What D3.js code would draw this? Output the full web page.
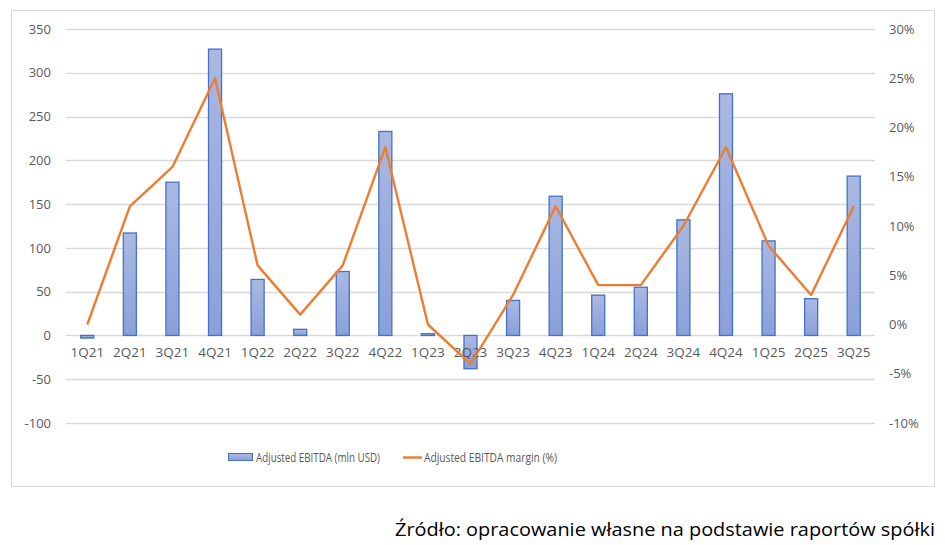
<!DOCTYPE html>
<html>
<head>
<meta charset="utf-8">
<script src="https://cdn.jsdelivr.net/npm/d3@7"></script>
<style>
  html, body { margin: 0; padding: 0; background: #fff; }
  svg { display: block; }
</style>
</head>
<body>
<svg id="chart" width="945" height="545"></svg>
<script>
const categories = ["1Q21","2Q21","3Q21","4Q21","1Q22","2Q22","3Q22","4Q22","1Q23","2Q23","3Q23","4Q23","1Q24","2Q24","3Q24","4Q24","1Q25","2Q25","3Q25"];
const ebitda = [-3, 117, 175, 327, 64, 7, 73, 233, 2, -38, 40, 159, 46, 55, 132, 276, 108, 42, 182];
const margin = [0, 12, 16, 25, 6, 1, 6, 18, 0, -4, 3, 12, 4, 4, 10, 18, 8, 3, 12];
const leftTicks = [-100, -50, 0, 50, 100, 150, 200, 250, 300, 350];
const rightTicks = [-10, -5, 0, 5, 10, 15, 20, 25, 30];
const legendLabels = ["Adjusted EBITDA (mln USD)", "Adjusted EBITDA margin (%)"];
const sourceText = "Źródło: opracowanie własne na podstawie raportów spółki";

const svg = d3.select("#chart");
const font = "'Open Sans', 'Liberation Sans', sans-serif";
const textGray = "#595959";

// chart frame
svg.append("rect").attr("x", 11.5).attr("y", 10.5).attr("width", 923).attr("height", 476)
  .attr("fill", "#fff").attr("stroke", "#d9d9d9").attr("stroke-width", 1);

const plot = { left: 66, right: 875, top: 29, bottom: 423 };

const x = d3.scaleBand().domain(categories).range([plot.left, plot.right]).paddingInner(0.67).paddingOuter(0.335);
const yL = d3.scaleLinear().domain([-100, 350]).range([plot.bottom, plot.top]);
const yR = d3.scaleLinear().domain([-10, 30]).range([plot.bottom, plot.top]);

// gradient for bars
const defs = svg.append("defs");
const grad = defs.append("linearGradient").attr("id", "barGrad").attr("x1", 0).attr("y1", 0).attr("x2", 0).attr("y2", 1);
grad.append("stop").attr("offset", "0%").attr("stop-color", "#aab8e2");
grad.append("stop").attr("offset", "100%").attr("stop-color", "#8aa0db");

// gridlines
svg.append("g").selectAll("line").data(leftTicks).join("line")
  .attr("x1", plot.left).attr("x2", plot.right)
  .attr("y1", d => Math.round(yL(d)) + 0.5).attr("y2", d => Math.round(yL(d)) + 0.5)
  .attr("stroke", "#d9d9d9").attr("stroke-width", 1.3);

const fmtNum = d => String(d).replace("\u2212", "-");

// left axis
const leftAxis = d3.axisLeft(yL).tickValues(leftTicks).tickSize(0).tickPadding(0).tickFormat(d => fmtNum(d));
const gL = svg.append("g").attr("transform", `translate(51,0)`).call(leftAxis);
gL.select(".domain").remove();
gL.selectAll("text").attr("fill", textGray).style("font-family", font).style("font-size", "13px");

// right axis
const rightAxis = d3.axisRight(yR).tickValues(rightTicks).tickSize(0).tickPadding(0).tickFormat(d => fmtNum(d) + "%");
const gR = svg.append("g").attr("transform", `translate(889,0)`).call(rightAxis);
gR.select(".domain").remove();
gR.selectAll("text").attr("fill", textGray).style("font-family", font).style("font-size", "13px");

// bars
svg.append("g").selectAll("rect").data(categories).join("rect")
  .attr("x", (d) => x(d) + 0.5)
  .attr("width", x.bandwidth() - 1)
  .attr("y", (d, i) => Math.min(yL(ebitda[i]), yL(0)))
  .attr("height", (d, i) => Math.abs(yL(ebitda[i]) - yL(0)))
  .attr("fill", "url(#barGrad)").attr("stroke", "#4472c4").attr("stroke-width", 1.3);

// category labels (below zero line)
const bottomAxis = d3.axisBottom(x).tickSize(0).tickPadding(0);
const gB = svg.append("g").attr("transform", `translate(0,${yL(0) + 12})`).call(bottomAxis);
gB.select(".domain").remove();
gB.selectAll("text").attr("fill", textGray).style("font-family", font).style("font-size", "13.5px");

// line
const line = d3.line().x((d, i) => x(categories[i]) + x.bandwidth() / 2).y(d => yR(d));
svg.append("path").datum(margin).attr("d", line)
  .attr("fill", "none").attr("stroke", "#ed7d31").attr("stroke-width", 2.4).attr("stroke-linejoin", "round");

// legend
const lg = svg.append("g");
lg.append("rect").attr("x", 228.5).attr("y", 453.5).attr("width", 24).attr("height", 7)
  .attr("fill", "url(#barGrad)").attr("stroke", "#4472c4").attr("stroke-width", 1);
lg.append("text").attr("x", 256).attr("y", 462).text(legendLabels[0])
  .attr("textLength", 124).attr("lengthAdjust", "spacingAndGlyphs")
  .attr("fill", textGray).style("font-family", font).style("font-size", "12px");
lg.append("line").attr("x1", 403).attr("x2", 422).attr("y1", 457.5).attr("y2", 457.5)
  .attr("stroke", "#ed7d31").attr("stroke-width", 2.4);
lg.append("text").attr("x", 424).attr("y", 462).text(legendLabels[1])
  .attr("textLength", 133).attr("lengthAdjust", "spacingAndGlyphs")
  .attr("fill", textGray).style("font-family", font).style("font-size", "12px");

// source
svg.append("text").attr("x", 935).attr("y", 536).attr("text-anchor", "end").text(sourceText)
  .attr("textLength", 540).attr("lengthAdjust", "spacingAndGlyphs")
  .attr("fill", "#000").style("font-family", font).style("font-size", "18px");
</script>
</body>
</html>
